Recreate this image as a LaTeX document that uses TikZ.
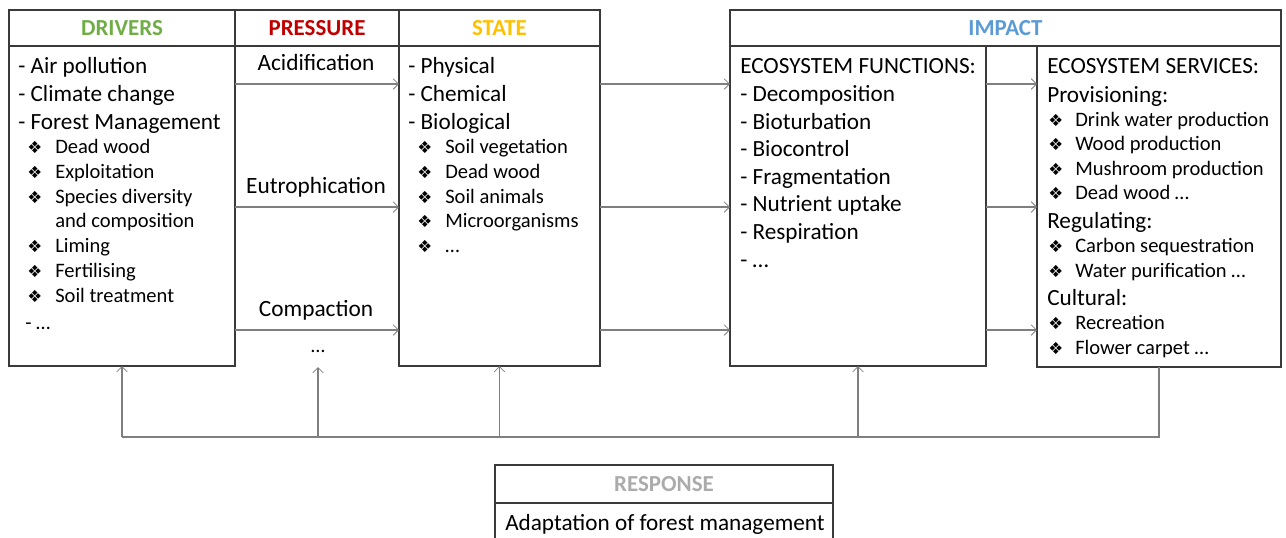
\documentclass[tikz,border=0pt]{standalone}
\usepackage{fontspec}
\setmainfont{Carlito}
\newfontfamily\symfont{DejaVu Sans}
\usetikzlibrary{arrows.meta}
\definecolor{drvgreen}{HTML}{70AD47}
\definecolor{prsred}{HTML}{C00000}
\definecolor{stgold}{HTML}{FFC000}
\definecolor{impblue}{HTML}{5B9BD5}
\definecolor{rspgray}{HTML}{ABABAB}
\definecolor{boxline}{HTML}{3A3A3A}
\definecolor{flowgray}{HTML}{7F7F7F}
\tikzset{
  boxn/.style={draw=boxline, line width=1pt, anchor=north west, inner sep=0pt, outer sep=0pt},
  hdr/.style={font=\bfseries\fontsize{17.2}{20}\selectfont},
  maintxt/.style={anchor=base west, inner sep=0pt, yshift=-0.75pt, font=\fontsize{17.4}{20}\selectfont},
  subtxt/.style={anchor=base west, inner sep=0pt, yshift=-0.75pt, font=\fontsize{15.4}{18}\selectfont},
  lbl/.style={anchor=base, inner sep=0pt, yshift=-0.75pt, font=\fontsize{17.5}{20}\selectfont},
  bul/.style={anchor=base west, inner sep=0pt, yshift=-0.75pt, font=\symfont\fontsize{12.5}{14}\selectfont},
  flow/.style={draw=flowgray, line width=0.8pt, -{Straight Barb[length=4pt,width=8pt,line width=0.6pt]}},
  fbline/.style={draw=flowgray, line width=0.8pt},
}
\begin{document}
\begin{tikzpicture}[x=0.75pt,y=-0.75pt]
\useasboundingbox (0,0) rectangle (1286,537);

% column headers and boxes
\node[boxn, minimum width=169.5pt, minimum height=27pt, hdr, text=drvgreen] (drvH) at (9,10) {DRIVERS};
\node[boxn, minimum width=169.5pt, minimum height=240pt] (drv) at (9,46) {};
\node[boxn, minimum width=123pt, minimum height=27pt, hdr, text=prsred] (prH) at (235,10) {PRESSURE};
\node[boxn, minimum width=150.75pt, minimum height=27pt, hdr, text=stgold] (stH) at (399,10) {STATE};
\node[boxn, minimum width=150.75pt, minimum height=240pt] (st) at (399,46) {};
\node[boxn, minimum width=413.25pt, minimum height=27pt, hdr, text=impblue] (imH) at (730,10) {IMPACT};
\node[boxn, minimum width=192pt, minimum height=240pt] (fn) at (730,46) {};
\node[boxn, minimum width=183pt, minimum height=240.75pt] (sv) at (1037,46) {};
\node[boxn, minimum width=253.5pt, minimum height=28.5pt, hdr, text=rspgray] (rsH) at (495,465) {RESPONSE};
\node[boxn, minimum width=253.5pt, minimum height=30pt] (rs) at (495,503) {};

% drivers
\node[maintxt] (d1) at (18,72) {- Air pollution};
\node[maintxt] (d2) at (18,100) {- Climate change};
\node[maintxt] (d3) at (18,128) {- Forest Management};
\foreach \yy/\t [count=\i] in {152/Dead wood, 177/Exploitation, 202/Species diversity, 251/Liming, 276/Fertilising, 301/Soil treatment}{
  \node[bul] (db\i) at (27,\yy) {❖};
  \node[subtxt] (dt\i) at (55,\yy) {\t};
}
\node[subtxt] (dcont) at (55,226) {and composition};
\node[subtxt] (dend) at (25,328) {- …};

% pressures
\node[lbl] (p1) at (316,69) {Acidification};
\node[lbl] (p2) at (316,192) {Eutrophication};
\node[lbl] (p3) at (316,315) {Compaction};
\node[lbl, font=\fontsize{15}{18}\selectfont] (p4) at (318,351) {…};

% state
\node[maintxt] (s1) at (408,72) {- Physical};
\node[maintxt] (s2) at (408,100) {- Chemical};
\node[maintxt] (s3) at (408,128) {- Biological};
\foreach \yy/\t [count=\i] in {152/Soil vegetation, 177/Dead wood, 202/Soil animals, 226/Microorganisms, 251/…}{
  \node[bul] (sb\i) at (417,\yy) {❖};
  \node[subtxt] (st\i) at (445,\yy) {\t};
}

% ecosystem functions
\foreach \yy/\t [count=\i] in {72/ECOSYSTEM FUNCTIONS:, 100/- Decomposition, 128/- Bioturbation, 155/- Biocontrol, 183/- Fragmentation, 210/- Nutrient uptake, 238/- Respiration, 266/- …}{
  \node[maintxt] (f\i) at (740,\yy) {\t};
}

% ecosystem services
\node[maintxt] (v1) at (1047,72) {ECOSYSTEM SERVICES:};
\node[maintxt] (v2) at (1047,101) {Provisioning:};
\node[maintxt] (v3) at (1047,227) {Regulating:};
\node[maintxt] (v4) at (1047,304) {Cultural:};
\foreach \yy/\t [count=\i] in {125/Drink water production, 149/Wood production, 174/Mushroom production, 198/Dead wood …, 251/Carbon sequestration, 276/Water purification …, 328/Recreation, 353/Flower carpet …}{
  \node[bul] (vb\i) at (1048,\yy) {❖};
  \node[subtxt] (vt\i) at (1075,\yy) {\t};
}

% response
\node[maintxt] (r1) at (505,529) {Adaptation of forest management};

% forward flows
\foreach \yy in {84,207,330}{
  \draw[flow] (drv.east |- 0,\yy) -- (st.west |- 0,\yy);
  \draw[flow] (st.east |- 0,\yy) -- (fn.west |- 0,\yy);
  \draw[flow] (fn.east |- 0,\yy) -- (sv.west |- 0,\yy);
}

% feedback loop
\coordinate (fbL) at (122,437);
\coordinate (fbP) at (318,437);
\coordinate (fbPend) at (318,367);
\draw[fbline] (sv.south) -- (sv.south |- fbL) -- (fbL);
\draw[flow] (fbL) -- (fbL |- drv.south);
\draw[flow] (fbP) -- (fbPend);
\draw[flow] (st.south |- fbL) -- (st.south);
\draw[flow] (fn.south |- fbL) -- (fn.south);
\end{tikzpicture}
\end{document}
